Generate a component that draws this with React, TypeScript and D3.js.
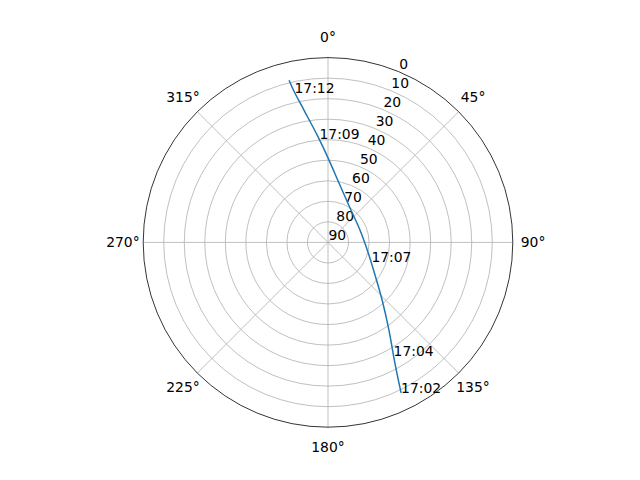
import React, { useEffect, useRef } from "react";
import * as d3 from "d3";

// satellite track, azimuth (deg, clockwise from north) and elevation (deg)
const azimuth = [154.1, 151.0, 145.2, 136.8, 124.8, 103.5, 68.8, 32.6, 10.5, 0.7, 354.2, 349.7, 347.3, 346.5];
const elevation = [8.5, 22.8, 38.0, 51.5, 62.1, 70.0, 73.3, 70.1, 60.6, 49.9, 37.4, 24.5, 14.4, 8.8];

// time stamps written along the track
const labelTimes = ["17:02", "17:04", "17:07", "17:09", "17:12"];
const labelAz = [154.1, 150.0, 114.3, 355.3, 347.4];
const labelEl = [8.5, 26.1, 66.8, 39.5, 15.2];

const thetaTicks = [0, 45, 90, 135, 180, 225, 270, 315];
const rTicks = [0, 10, 20, 30, 40, 50, 60, 70, 80, 90];

export default function App() {
    const svgRef = useRef(null);
    const width = 640;
    const height = 480;

    useEffect(() => {
        const cx = 328;
        const cy = 242.4;
        const R = 184.8;
        const font = "DejaVu Sans, sans-serif";
        const rad = (d: number) => (d * Math.PI) / 180;

        const svg = d3.select(svgRef.current)
            .attr("width", width)
            .attr("height", height);

        svg.selectAll("*").remove();

        svg.append("rect")
            .attr("width", width)
            .attr("height", height)
            .attr("fill", "#ffffff");

        const rScale = d3.scaleLinear().domain([0, 90]).range([R, 0]);

        const g = svg.append("g").attr("transform", `translate(${cx},${cy})`);

        // circular grid
        g.selectAll(".ring")
            .data(rTicks.filter(t => t > 0 && t < 90))
            .join("circle")
            .attr("r", d => rScale(d))
            .attr("fill", "none")
            .attr("stroke", "#b0b0b0")
            .attr("stroke-width", 0.8);

        // spokes
        g.selectAll(".spoke")
            .data(thetaTicks)
            .join("line")
            .attr("x1", 0)
            .attr("y1", 0)
            .attr("x2", d => R * Math.sin(rad(d)))
            .attr("y2", d => -R * Math.cos(rad(d)))
            .attr("stroke", "#b0b0b0")
            .attr("stroke-width", 0.8);

        // outer spine
        g.append("circle")
            .attr("r", R)
            .attr("fill", "none")
            .attr("stroke", "#000000")
            .attr("stroke-width", 0.8);

        // angle labels
        g.selectAll(".tlabel")
            .data(thetaTicks)
            .join("text")
            .attr("x", d => (R + 20.3) * Math.sin(rad(d)))
            .attr("y", d => -(R + 20.3) * Math.cos(rad(d)) + 4.7)
            .attr("text-anchor", "middle")
            .style("font-family", font)
            .style("font-size", "13.9px")
            .text(d => `${d}°`);

        // radial labels at 22.5 deg
        g.selectAll(".rlabel")
            .data(rTicks)
            .join("text")
            .attr("x", d => rScale(d) * Math.sin(rad(22.5)) + 0.5)
            .attr("y", d => -rScale(d) * Math.cos(rad(22.5)) - 2.5)
            .attr("text-anchor", "start")
            .style("font-family", font)
            .style("font-size", "13.9px")
            .text(d => `${d}`);

        // track
        const track = azimuth.map((a, i) => [rad(a), rScale(elevation[i])] as [number, number]);
        const line = d3.lineRadial<[number, number]>()
            .angle(d => d[0])
            .radius(d => d[1])
            .curve(d3.curveCatmullRom);

        g.append("path")
            .attr("d", line(track))
            .attr("fill", "none")
            .attr("stroke", "#1f77b4")
            .attr("stroke-width", 1.5);

        // time labels
        g.selectAll(".time")
            .data(labelTimes)
            .join("text")
            .attr("x", (d, i) => rScale(labelEl[i]) * Math.sin(rad(labelAz[i])))
            .attr("y", (d, i) => -rScale(labelEl[i]) * Math.cos(rad(labelAz[i])))
            .attr("text-anchor", "start")
            .style("font-family", font)
            .style("font-size", "13.9px")
            .text(d => d);
    }, []);

    return (
        <svg ref={svgRef} style={{ position: "fixed", left: 0, top: 0 }} />
    );
}
